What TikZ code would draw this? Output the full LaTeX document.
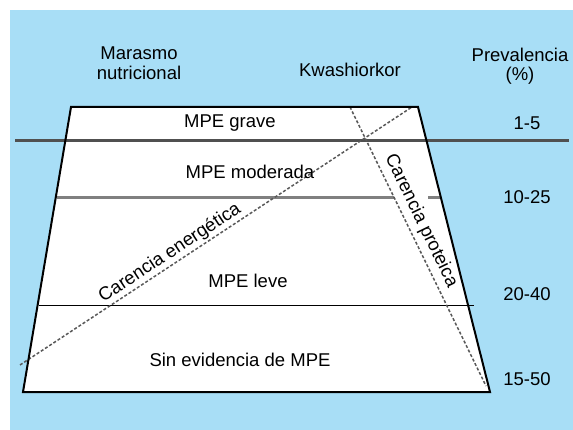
\documentclass[tikz,border=0pt]{standalone}
\usepackage{fontspec}
\setmainfont{Liberation Sans}
\definecolor{bgblue}{HTML}{A8DEF6}
\definecolor{lvlgray}{HTML}{505050}
\begin{document}
\begin{tikzpicture}[x=1pt,y=-1pt,
  lbl/.style={font=\fontsize{18.5}{19.5}\selectfont, inner sep=1pt, align=center},
  edge/.style={line width=2pt, black},
  dashln/.style={line width=1.5pt, gray!70!black, dash pattern=on 3pt off 2pt}]
\useasboundingbox (0,0) rectangle (573,430);
\fill[white] (0,0) rectangle (573,430);
\fill[bgblue] (10,10) rectangle (573,430);
% trapezoid
\coordinate (tl) at (71,107);
\coordinate (tr) at (418,107);
\coordinate (bl) at (23,392);
\coordinate (br) at (490,392);
\fill[white] (tl) -- (tr) -- (br) -- (bl) -- cycle;
% level lines
\coordinate (g1) at (15,140.5);
\coordinate (g2) at (569,140.5);
\draw[line width=3pt, lvlgray] (g1) -- (g2);
\coordinate (m1) at (57,197.5);
\coordinate (m2) at (394,197.5);
\coordinate (m3) at (428,197.5);
\coordinate (m4) at (441,197.5);
\draw[line width=2.5pt, gray] (m1) -- (m2);
\draw[line width=2.5pt, gray] (m3) -- (m4);
\coordinate (l1) at (39,305.5);
\coordinate (l2) at (474,305.5);
\draw[line width=1.8pt, black] (l1) -- (l2);
% dashed lines
\coordinate (e1) at (20,365);
\coordinate (e2) at (412,107);
\draw[dashln] (e1) -- (e2);
\coordinate (p1) at (350,107);
\coordinate (p2) at (486,386);
\draw[dashln] (p1) -- (p2);
% trapezoid outline
\draw[edge, line join=miter] (tl) -- (tr) -- (br) -- (bl) -- cycle;
% headers
\node[lbl] (mar) at (139,63) {Marasmo\\nutricional};
\node[lbl] (kwa) at (350,70) {Kwashiorkor};
\node[lbl] (prev) at (520,66) {Prevalencia\\(\%)};
% levels
\node[lbl] (grave) at (230,123) {MPE grave};
\node[lbl] (mod) at (250,172) {MPE moderada};
\node[lbl] (leve) at (248,281) {MPE leve};
\node[lbl] (sin) at (240,360) {Sin evidencia de MPE};
% prevalences
\node[lbl] (v1) at (527,123) {1-5};
\node[lbl] (v2) at (527,197) {10-25};
\node[lbl] (v3) at (527,294) {20-40};
\node[lbl] (v4) at (527,379) {15-50};
% rotated labels
\node[lbl, rotate=33.3] (ce) at (170,253) {Carencia energética};
\node[lbl, rotate=-64.1] (cp) at (421,221) {Carencia proteica};
\end{tikzpicture}
\end{document}
